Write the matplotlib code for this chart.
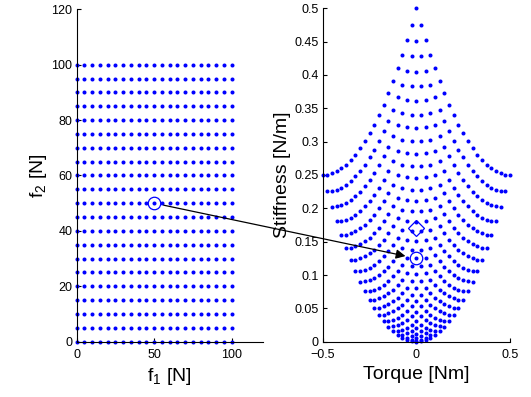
import numpy as np
import matplotlib
matplotlib.use('Agg')
import matplotlib.pyplot as plt

plt.rcParams['font.family'] = ['Liberation Sans', 'DejaVu Sans']
plt.rcParams['mathtext.default'] = 'regular'

# Grid of muscle forces (same values for both f1 and f2)
f1_values = [0, 5, 10, 15, 20, 25, 30, 35, 40, 45, 50,
             55, 60, 65, 70, 75, 80, 85, 90, 95, 100]
f2_values = [0, 5, 10, 15, 20, 25, 30, 35, 40, 45, 50,
             55, 60, 65, 70, 75, 80, 85, 90, 95, 100]

# Mapping constants:
# torque = r*(f1 - f2), stiffness = k*(f1^2 + f2^2)
r_arm = 0.005
k_stiff = 2.5e-5

# Highlighted operating point and target
sel_f = (50, 50)
target = (0.0, 0.17)

F1, F2 = np.meshgrid(f1_values, f2_values)
torque = r_arm * (F1 - F2)
stiffness = k_stiff * (F1 ** 2 + F2 ** 2)
sel_torque = r_arm * (sel_f[0] - sel_f[1])
sel_stiff = k_stiff * (sel_f[0] ** 2 + sel_f[1] ** 2)

fig = plt.figure(figsize=(5.31, 3.97), dpi=100)
ax1 = fig.add_axes([0.1444, 0.1393, 0.3503, 0.8373])
ax2 = fig.add_axes([0.6077, 0.1393, 0.3527, 0.8398])

blue = (0, 0, 1)

ax1.plot(F1.ravel(), F2.ravel(), 'o', color=blue, ms=2.9, mew=0, clip_on=False)
ax1.plot(sel_f[0], sel_f[1], 'o', mfc='none', mec=blue, ms=9, mew=0.9)
ax1.set_xlim(0, 120)
ax1.set_ylim(0, 120)
ax1.set_xticks([0, 50, 100])
ax1.set_yticks([0, 20, 40, 60, 80, 100, 120])
ax1.set_xlabel('f$_1$ [N]', fontsize=14, labelpad=4)
ax1.set_ylabel('f$_2$ [N]', fontsize=14, labelpad=2)

ax2.plot(torque.ravel(), stiffness.ravel(), 'o', color=blue, ms=2.9, mew=0, clip_on=False)
ax2.plot(sel_torque, sel_stiff, 'o', mfc='none', mec=blue, ms=9, mew=0.9)
ax2.plot(target[0], target[1], 'D', mfc='none', mec=blue, ms=8, mew=0.9)
ax2.set_xlim(-0.5, 0.5)
ax2.set_ylim(0, 0.5)
ax2.set_xticks([-0.5, 0, 0.5])
ax2.set_xticklabels(['\u22120.5', '0', '0.5'])
ax2.set_yticks(np.arange(0, 0.501, 0.05))
ax2.set_yticklabels(['0', '0.05', '0.1', '0.15', '0.2', '0.25', '0.3',
                     '0.35', '0.4', '0.45', '0.5'])
ax2.set_xlabel('Torque [Nm]', fontsize=14, labelpad=4)
ax2.set_ylabel('Stiffness [N/m]', fontsize=14, labelpad=2)

for ax in (ax1, ax2):
    ax.spines['top'].set_visible(False)
    ax.spines['right'].set_visible(False)
    ax.tick_params(direction='in', length=3, labelsize=9, width=0.8, pad=3)
    ax.tick_params(axis='x', pad=5)

ax2.annotate('', xy=(sel_torque, sel_stiff), xycoords=ax2.transData,
             xytext=sel_f, textcoords=ax1.transData,
             arrowprops=dict(arrowstyle='-|>', color='black', lw=0.9,
                             shrinkA=7, shrinkB=8, mutation_scale=14),
             annotation_clip=False)

fig.savefig('out.png', dpi=100)
